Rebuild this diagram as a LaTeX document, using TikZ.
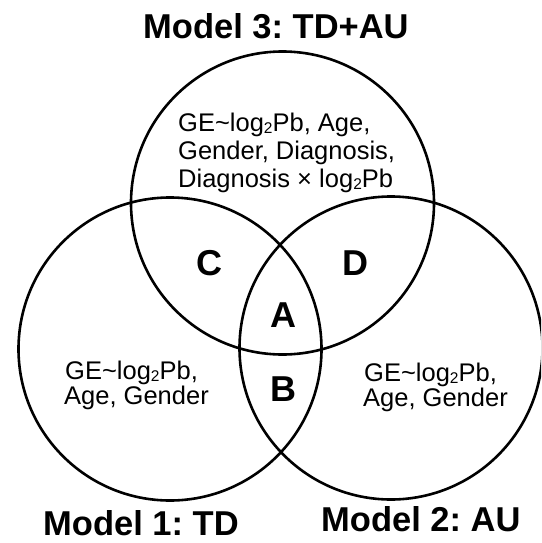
\documentclass[tikz,border=0pt]{standalone}
\usepackage{fontspec}
\setmainfont{Liberation Sans}
\frenchspacing
\newcommand\lsub[1]{\raisebox{-2.5pt}{\fontsize{15.5}{15.5}\selectfont #1}}
\begin{document}
\frenchspacing
\begin{tikzpicture}[x=1pt,y=-1pt,
  ring/.style={circle,draw,line width=2.6pt,minimum size=303pt,inner sep=0pt},
  title/.style={font=\fontsize{34.5}{36}\selectfont\bfseries, inner sep=0pt, anchor=base west},
  body/.style={font=\fontsize{25.5}{28}\selectfont, inner sep=0pt, anchor=base west},
  region/.style={font=\fontsize{36}{38}\selectfont\bfseries, inner sep=0pt, anchor=base}]
\useasboundingbox (0,0) rectangle (541,543);
\clip (0,0) rectangle (541,543);
\node[ring] (m3) at (282.5,203) {};
\node[ring] (m1) at (170,349) {};
\node[ring] (m2) at (391,348) {};
\node[title] (t3) at (143,39) {Model 3: TD+AU};
\node[title] (t1) at (43,535) {Model 1: TD};
\node[title] (t2) at (321,531) {Model 2: AU};
\node[body] (a1) at (178,131) {GE\textasciitilde log\lsub{2}Pb, Age,};
\node[body] (a2) at (178,159) {Gender, Diagnosis,};
\node[body] (a3) at (178,187) {Diagnosis × log\lsub{2}Pb};
\node[body] (l1) at (65,379) {GE\textasciitilde log\lsub{2}Pb,};
\node[body] (l2) at (64,404) {Age, Gender};
\node[body] (r1) at (364,381) {GE\textasciitilde log\lsub{2}Pb,};
\node[body] (r2) at (363,406) {Age, Gender};
\node[region] (C) at (209,275) {C};
\node[region] (D) at (355,275) {D};
\node[region] (A) at (283,327) {A};
\node[region] (B) at (283,401) {B};
\end{tikzpicture}
\end{document}
